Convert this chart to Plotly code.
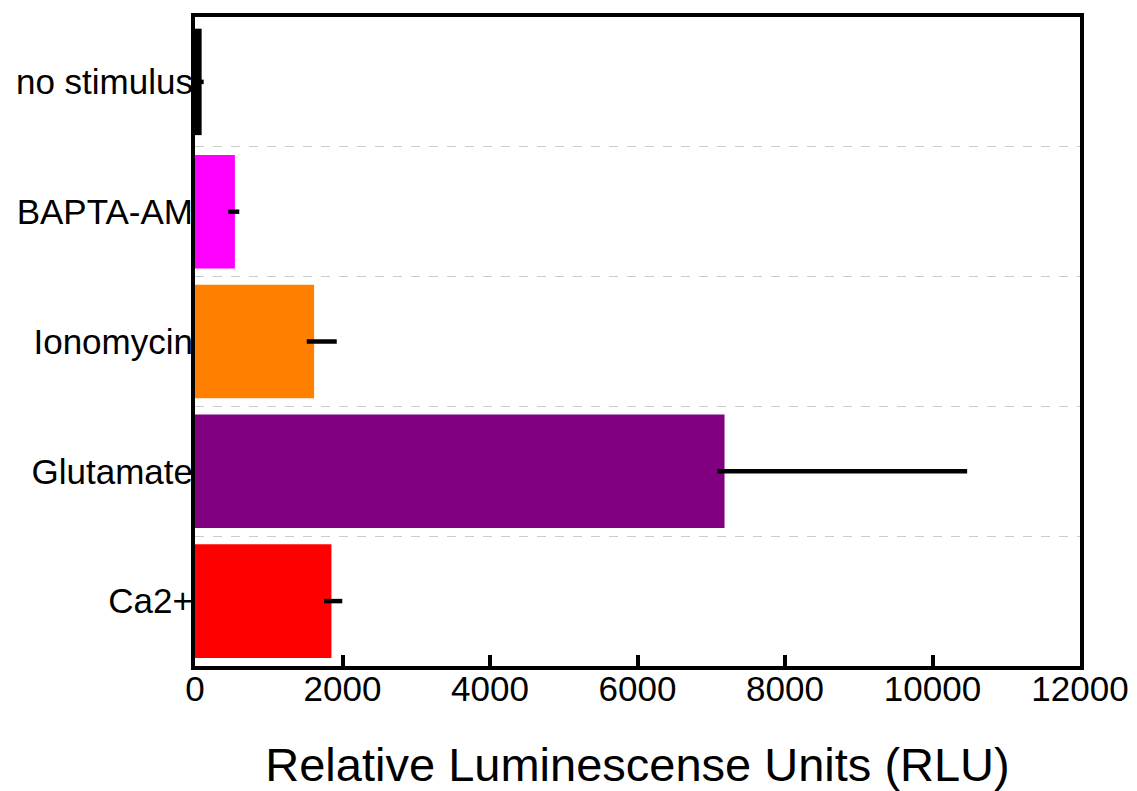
import plotly.graph_objects as go

categories = ["Ca2+", "Glutamate", "Ionomycin", "BAPTA-AM", "no stimulus"]
values = [1850, 7180, 1615, 541, 90]
err_plus = [147, 3290, 307, 59, 28]
err_minus = [100, 95, 100, 90, 60]
colors = ["#FF0000", "#800080", "#FF7F00", "#FF00FF", "#000000"]
bar_widths = [0.875, 0.875, 0.875, 0.875, 0.82]
x_ticks = [0, 2000, 4000, 6000, 8000, 10000, 12000]

positions = list(range(len(categories)))

fig = go.Figure()
fig.add_trace(go.Bar(
    x=values,
    y=positions,
    orientation="h",
    width=bar_widths,
    marker=dict(color=colors, line=dict(width=0)),
    error_x=dict(type="data", symmetric=False, array=err_plus, arrayminus=err_minus,
                 color="black", thickness=4.5, width=0),
    showlegend=False,
))

font_family = "Arial, Liberation Sans, sans-serif"
fig.update_layout(
    width=1129, height=783,
    margin=dict(l=187, r=57, t=9, b=125, pad=0),
    plot_bgcolor="white", paper_bgcolor="white",
    font=dict(family=font_family, color="black"),
    xaxis=dict(
        range=[0, 12000],
        automargin=False,
        tickvals=x_ticks,
        ticktext=[str(v) for v in x_ticks],
        ticks="inside", ticklen=11, tickwidth=4, tickcolor="black",
        ticklabelstandoff=-11,
        tickfont=dict(size=35, family=font_family, color="black"),
        showline=True, linewidth=4, linecolor="black", mirror=True,
        showgrid=False, zeroline=False,
        title=dict(text="Relative Luminescense Units (RLU)",
                   font=dict(size=47, family=font_family, color="black"),
                   standoff=44),
    ),
    yaxis=dict(
        range=[-0.5, 4.5],
        automargin=False,
        tickvals=positions,
        ticktext=categories,
        ticks="",
        ticklabelstandoff=-9,
        tickfont=dict(size=35, family=font_family, color="black"),
        showline=True, linewidth=4, linecolor="black", mirror=True,
        showgrid=False, zeroline=False,
        minor=dict(tick0=0.5, dtick=1, showgrid=True, gridcolor="#cccccc",
                   griddash="dash", gridwidth=1, ticks=""),
    ),
)

fig.write_html("out.html")
